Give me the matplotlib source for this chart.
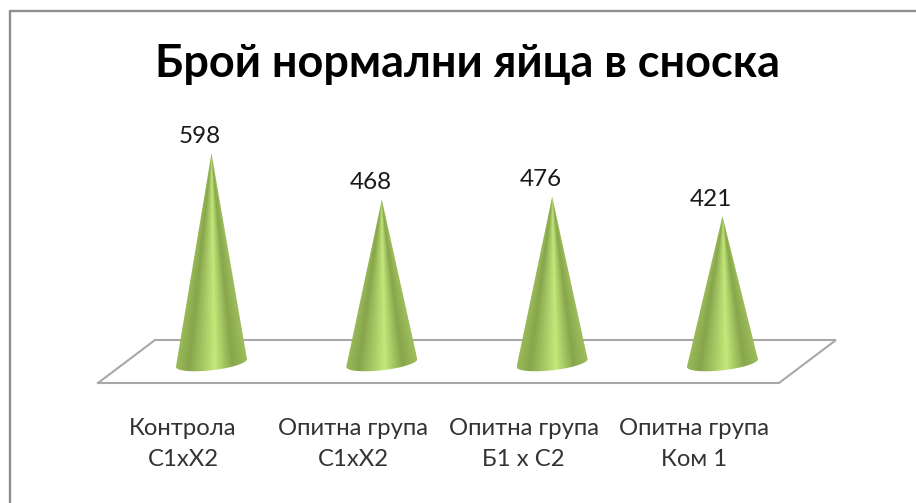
import matplotlib
matplotlib.use('Agg')
import matplotlib.pyplot as plt
from matplotlib.colors import LinearSegmentedColormap
from matplotlib.path import Path
from matplotlib.patches import PathPatch
import numpy as np

plt.rcParams['font.family'] = ['Lato', 'Open Sans', 'DejaVu Sans']

title = 'Брой нормални яйца в сноска'
categories = ['Контрола\nС1хХ2', 'Опитна група\nС1хХ2', 'Опитна група\nБ1 х С2', 'Опитна група\nКом 1']
values = [598, 468, 476, 421]

W, H = 916, 503
px_per_x = 170.33    # pixels between categories
px_per_y = 0.356     # pixels per egg
x0_px, y0_px = 211.5, 366   # where the first cone base sits


def xs(px):
    return (px - x0_px) / px_per_x


def ys(py):
    return (y0_px - py) / px_per_y


fig = plt.figure(figsize=(W / 100, H / 100), dpi=100)
ax = fig.add_axes([0, 0, 1, 1])
ax.axis('off')

# frame, only left and top are visible in the picture
ax.plot([xs(9.7), xs(9.7), xs(916)], [ys(503), ys(11), ys(11)], color='#8e8e8e', lw=1.7, solid_capstyle='butt')

# floor of the 3d chart
floor_x = [xs(98), xs(155), xs(836), xs(779), xs(98)]
floor_y = [ys(383), ys(340), ys(340), ys(383), ys(383)]
ax.plot(floor_x, floor_y, color='#a8a8a8', lw=1.5, solid_joinstyle='miter')

# shading around a cone, left to right
shade = LinearSegmentedColormap.from_list('cone', [
    (0.0, '#9aba58'), (0.18, '#87a54c'), (0.55, '#c3e87a'),
    (0.8, '#88a64c'), (1.0, '#9dbc5a')])

half_w = 35.5 / px_per_x
y_bottom = ys(372)
t = np.linspace(np.pi, 2 * np.pi, 50)

for i, v in enumerate(values):
    # base is a slightly tilted ellipse, right side higher
    bx = i + (35.5 * np.cos(t) + 2 * np.sin(t)) / px_per_x
    by = ys(363 - 3.5 * np.cos(t) - 7.5 * np.sin(t))
    verts = list(zip(bx, by)) + [(i, v), (bx[0], by[0])]
    codes = [Path.MOVETO] + [Path.LINETO] * (len(verts) - 2) + [Path.CLOSEPOLY]
    clip = PathPatch(Path(verts, codes), transform=ax.transData, fc='none', ec='none')
    ax.add_patch(clip)

    # shading follows the surface, so it narrows toward the tip
    gx = np.linspace(i - half_w, i + half_w, 160)
    gy = np.linspace(y_bottom, v, 300)
    xx, yy = np.meshgrid(gx, gy)
    frac = np.clip(1 - yy / v, 0.004, 1)
    u = np.clip(0.5 + (xx - i) / (2 * half_w * frac), 0, 1)
    im = ax.imshow(u, cmap=shade, vmin=0, vmax=1, origin='lower', aspect='auto',
                   extent=(i - half_w, i + half_w, y_bottom, v), zorder=3)
    im.set_clip_path(clip)

    ax.text(i - 11.5 / px_per_x, v + 17 / px_per_y, str(v), ha='center', va='center', fontsize=17.5, color='#1a1a1a')
    ax.text(i - 28.5 / px_per_x, ys(444), categories[i], ha='center', va='center', fontsize=17.2, color='#333333', linespacing=1.57)

ax.text(xs(467.5), ys(64), title, ha='center', va='center', fontsize=32.4, fontweight='bold', color='black')

ax.set_xlim(xs(0), xs(W))
ax.set_ylim(ys(H), ys(0))

plt.savefig('out.png', dpi=100)
